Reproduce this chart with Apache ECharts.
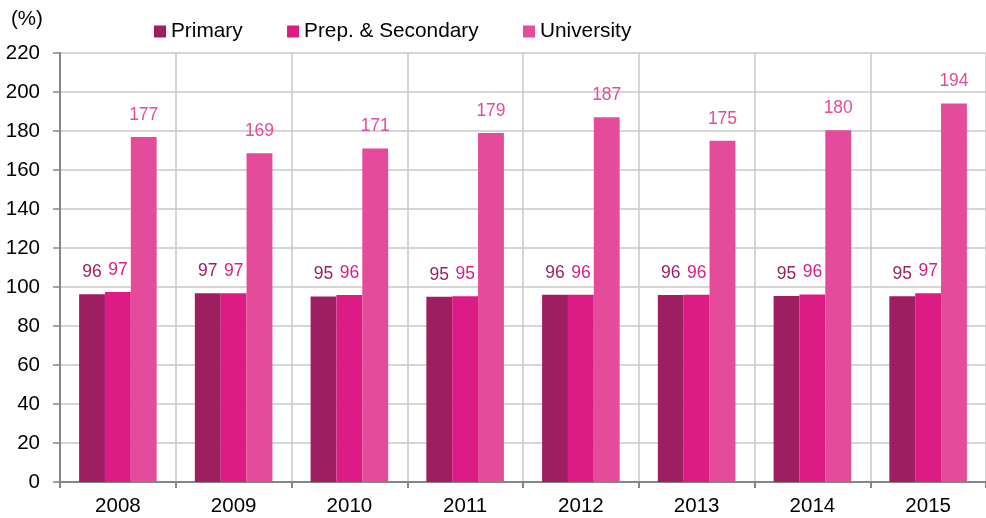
<!DOCTYPE html>
<html>
<head>
<meta charset="utf-8">
<script src="https://cdn.jsdelivr.net/npm/echarts@6/dist/echarts.min.js"></script>
<style>
  html, body { margin: 0; padding: 0; background: #fff; }
  #chart { width: 986px; height: 518px; }
</style>
</head>
<body>
<div id="chart"></div>
<script>
const years = ['2008', '2009', '2010', '2011', '2012', '2013', '2014', '2015']
const primary = [96.3, 96.8, 95.1, 95.0, 96.0, 95.9, 95.4, 95.3]
const prepSecondary = [97.4, 96.8, 95.9, 95.2, 96.0, 96.0, 96.1, 96.8]
const university = [176.9, 168.6, 171.0, 179.0, 187.0, 175.0, 180.4, 194.1]
const yTicks = { min: 0, max: 220, step: 20 }

const font = '"Liberation Sans", Arial, sans-serif'
const colors = ['#9E1E62', '#DC1C84', '#E44B9A']

const chart = echarts.init(document.getElementById('chart'))

const makeSeries = (name, data, color) => ({
  name,
  type: 'bar',
  data,
  barGap: '0%',
  barCategoryGap: '33%',
  itemStyle: { color },
  label: {
    show: true,
    position: 'top',
    distance: 13,
    color,
    fontFamily: font,
    fontSize: 17.5,
    formatter: p => Math.round(p.value)
  }
})

const option = {
  animation: false,
  title: {
    text: '(%)',
    left: 6,
    top: 4,
    textStyle: { fontFamily: font, fontSize: 20.5, fontWeight: 'normal', color: '#000' }
  },
  legend: {
    left: 149,
    top: 16,
    itemWidth: 12,
    itemHeight: 12,
    itemGap: 44.4,
    icon: 'rect',
    textStyle: { fontFamily: font, fontSize: 20.8, color: '#000' },
    data: ['Primary', 'Prep. & Secondary', 'University']
  },
  grid: { left: 60, right: -2, top: 53, bottom: 36 },
  xAxis: {
    type: 'category',
    data: years,
    axisLine: { lineStyle: { color: '#868686', width: 2 } },
    axisTick: { show: true, length: 6, lineStyle: { color: '#868686', width: 2 } },
    axisLabel: { fontFamily: font, fontSize: 20.5, color: '#000', margin: 14 },
    splitLine: { show: true, lineStyle: { color: '#c8c8c8', width: 1.5 } }
  },
  yAxis: {
    type: 'value',
    min: yTicks.min,
    max: yTicks.max,
    interval: yTicks.step,
    axisLine: { show: true, lineStyle: { color: '#868686', width: 2 } },
    axisTick: { show: true, length: 7, lineStyle: { color: '#868686', width: 1.5 } },
    axisLabel: { fontFamily: font, fontSize: 20.5, color: '#000', margin: 20 },
    splitLine: { show: true, lineStyle: { color: '#c8c8c8', width: 1.5 } }
  },
  series: [
    makeSeries('Primary', primary, colors[0]),
    makeSeries('Prep. & Secondary', prepSecondary, colors[1]),
    makeSeries('University', university, colors[2])
  ]
}

chart.setOption(option)
</script>
</body>
</html>
